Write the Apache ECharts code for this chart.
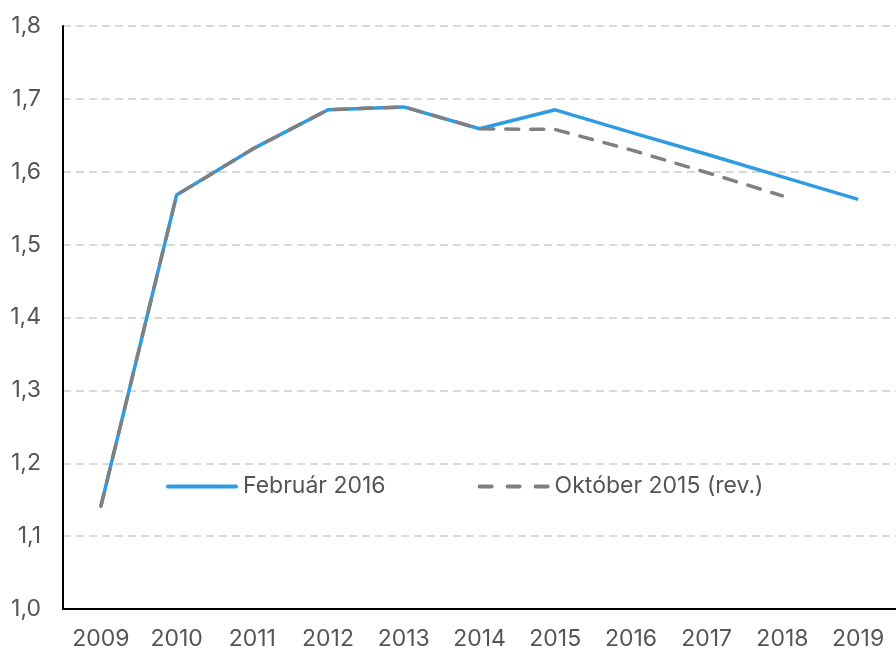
<!DOCTYPE html>
<html>
<head>
<meta charset="utf-8">
<script src="https://cdn.jsdelivr.net/npm/echarts@6/dist/echarts.min.js"></script>
<style>
  html, body { margin: 0; padding: 0; background: #fff; }
  #myChart { width: 896px; height: 651px; }
</style>
</head>
<body>
<div id="myChart"></div>
<script>
// kategorie (roky)
var years = ['2009', '2010', '2011', '2012', '2013', '2014', '2015', '2016', '2017', '2018', '2019']
// prognóza február 2016
var feb2016 = [1.141, 1.568, 1.631, 1.685, 1.689, 1.659, 1.685, 1.654, 1.624, 1.593, 1.562]
// prognóza október 2015 (rev.)
var okt2015 = [1.141, 1.568, 1.631, 1.685, 1.689, 1.659, 1.658, 1.630, 1.599, 1.567, null]

var textColor = '#555555'
var font = 'Inter, "Liberation Sans", sans-serif'

var myChart = echarts.init(document.getElementById('myChart'))
myChart.setOption({
  animation: false,
  grid: { left: 63, right: -5, top: 26, bottom: 41 },
  legend: {
    left: 161,
    top: 470,
    itemWidth: 72,
    itemHeight: 4,
    itemGap: 92,
    textStyle: { color: textColor, fontSize: 23, fontFamily: font },
    data: [
      { name: 'Február 2016', icon: 'path://M2,0h68a2,2 0 0 1 0,4h-68a2,2 0 0 1 0,-4z' },
      { name: 'Október 2015 (rev.)', icon: 'path://M2,0h12a2,2 0 0 1 0,4h-12a2,2 0 0 1 0,-4z M30,0h12a2,2 0 0 1 0,4h-12a2,2 0 0 1 0,-4z M58,0h12a2,2 0 0 1 0,4h-12a2,2 0 0 1 0,-4z' }
    ]
  },
  xAxis: {
    type: 'category',
    data: years,
    boundaryGap: true,
    axisLine: { lineStyle: { color: '#000', width: 2 } },
    axisTick: { show: false },
    axisLabel: { color: textColor, fontSize: 23, fontFamily: font, margin: 19 },
    splitLine: { show: false }
  },
  yAxis: {
    type: 'value',
    min: 1.0,
    max: 1.8,
    interval: 0.1,
    axisLine: { show: true, lineStyle: { color: '#000', width: 2 } },
    axisTick: { show: false },
    axisLabel: {
      color: textColor,
      fontSize: 23,
      fontFamily: font,
      margin: 22,
      formatter: function (v) { return v.toFixed(1).replace('.', ',') }
    },
    splitLine: { lineStyle: { color: '#d9d9d9', width: 2, type: [8, 5] } }
  },
  series: [
    {
      name: 'Február 2016',
      type: 'line',
      data: feb2016,
      symbol: 'none',
      color: '#2f9be0',
      lineStyle: { width: 3.5, color: '#2f9be0' }
    },
    {
      name: 'Október 2015 (rev.)',
      type: 'line',
      data: okt2015,
      symbol: 'none',
      color: '#808080',
      lineStyle: { width: 3.5, color: '#808080', type: [13, 12], cap: 'round' }
    }
  ]
})
</script>
</body>
</html>
